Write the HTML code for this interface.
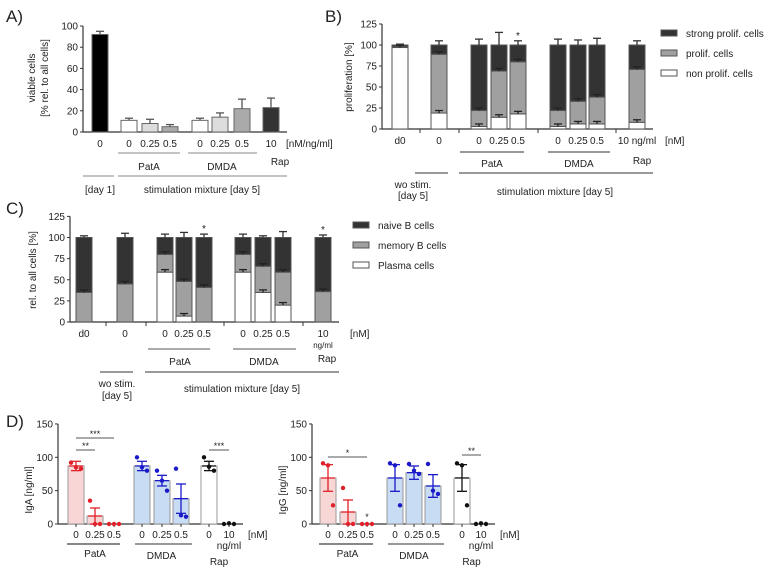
<!DOCTYPE html>
<html><head><meta charset="utf-8"><style>
body{margin:0;background:#fff;}
svg{display:block;font-family:"Liberation Sans",Arial,sans-serif;}
</style></head><body>
<svg id="fig" width="777" height="570" viewBox="0 0 777 570" xmlns="http://www.w3.org/2000/svg"></svg>
<script>
// ---------- Panel A data ----------
const aCats = ["0","0","0.25","0.5","0","0.25","0.5","10"];
const aVals = [92,11,8,5,11,14,22,23];
const aErrs = [3,2,4,2,2,4,9,9];
const aTicks = [0,20,40,60,80,100];
// ---------- Panel B data ----------
const bCats = ["d0","0","0","0.25","0.5","0","0.25","0.5","10 ng/ml"];
const bNon = [97,19,3,14,18,3,6,6,8];
const bProlif = [98,89,22,69,80,22,33,38,71];
const bStrongErr = [1,5,7,15,5,7,6,8,5];
const bTicks = [0,25,50,75,100,125];
// ---------- Panel C data ----------
const cCats = ["d0","0","0","0.25","0.5","0","0.25","0.5","10"];
const cPlasma = [0,0,59,7,0,59,35,20,0];
const cMemory = [35,45,80,48,41,80,66,59,36];
const cNaiveErr = [2,5,4,6,4,4,2,7,3];
const cTicks = [0,25,50,75,100,125];
// ---------- Panel D data ----------
const dCats = ["0","0.25","0.5","0","0.25","0.5","0","10"];
const igaMean = [87,12,0,87,65,38,87,0];
const igaSem = [7,12,0,7,8,22,7,0];
const igaPts = [[92,85,83],[35,0,0],[0,0,0],[100,85,80],[80,65,50],[83,13,11],[100,86,80],[0,1,0]];
const iggMean = [69,18,0,69,77,57,69,0];
const iggSem = [20,18,0,20,10,17,20,0];
const iggPts = [[91,88,28],[54,0,0],[0,0,0],[91,88,28],[90,80,75],[90,50,45],[91,88,28],[0,1,0]];
const dTicks = [0,50,100,150];

const NS="http://www.w3.org/2000/svg";
const svg=document.getElementById('fig');
function mk(tag,attrs,parent){const e=document.createElementNS(NS,tag);for(const k in attrs)e.setAttribute(k,attrs[k]);(parent||svg).appendChild(e);return e;}
function txt(x,y,s,size,anchor,parent,rot){const t=mk('text',{x:x,y:y,'font-size':size,'text-anchor':anchor||'middle',fill:'#222'},parent);if(rot)t.setAttribute('transform','rotate(-90 '+x+' '+y+')');t.textContent=s;return t;}
function line(x1,y1,x2,y2,c,w,parent){return mk('line',{x1:x1,y1:y1,x2:x2,y2:y2,stroke:c||'#333','stroke-width':w||1},parent);}
function yAxis(g,x,y0,k,ticks,top){line(x,y0,x,y0-k*top,'#333',1.2,g);ticks.forEach(v=>{const y=y0-k*v;line(x-3,y,x,y,'#333',1,g);txt(x-5,y+3.5,String(v),10,'end',g);});}
function errUp(g,x,y,h,c){line(x,y,x,y-h,c,1.3,g);line(x-4,y-h,x+4,y-h,c,1.3,g);}

// ---------- Panel labels ----------
[['A)',6,22],['B)',325,22],['C)',6,214],['D)',6,427]].forEach(p=>{const t=txt(p[1],p[2],p[0],17,'start');});

// ---------- Panel A ----------
(function(){
const g=mk('g',{});


const y0=132,k=1.06,ax=83;
const xs=[100,129,150,170,200,220,242,271];
const fills=['#000','#fff','#ddd','#aaa','#fff','#ddd','#aaa','#333'];
yAxis(g,ax,y0,k,aTicks,100);
line(ax,y0,287,y0,'#333',1.2,g);
aVals.forEach((v,i)=>{
 const r=mk('rect',{x:xs[i]-8,y:y0-k*v,width:16,height:k*v,fill:fills[i],stroke:'#666','stroke-width':1},g);
 
 
 errUp(g,xs[i],y0-k*v,k*aErrs[i],'#555');
 txt(xs[i],147,aCats[i],10,'middle',g);
});
txt(286,147,'[nM/ng/ml]',10,'start',g);
line(118,153,180,153,'#888',1,g);line(188,153,257,153,'#888',1,g);
txt(149,170,'PatA',10,'middle',g);txt(222,170,'DMDA',10,'middle',g);txt(280,165,'Rap',10,'middle',g);
line(83,176,114,176,'#888',1,g);line(118,176,287,176,'#888',1,g);
txt(100,193,'[day 1]',10,'middle',g);txt(202,193,'stimulation mixture [day 5]',10,'middle',g);
txt(35,78,'viable cells',10,'middle',g,true);txt(48,78,'[% rel. to all cells]',10,'middle',g,true);
})();

// ---------- stacked helper ----------
function stacked(g,xs,y0,k,low,mid,lowC,midC,topC,midErr,topErr,prefix){
 xs.forEach((x,i)=>{
  const segs=[[0,low[i],lowC],[low[i],mid[i],midC],[mid[i],100,topC]];
  segs.forEach((s,j)=>{if(s[1]>s[0]){const r=mk('rect',{x:x-8,y:y0-k*s[1],width:16,height:k*(s[1]-s[0]),fill:s[2],stroke:'#555','stroke-width':1},g);
   
   }});
  if(low[i]>0)errUp(g,x,y0-k*low[i],k*3,'#222');
  errUp(g,x,y0-k*mid[i],k*3,'#222');
  errUp(g,x,y0-k*100,k*topErr[i],'#333');
 });
}

// ---------- Panel B ----------
(function(){
const g=mk('g',{});


const y0=129,k=0.84,ax=382;
const xs=[400,439,479,499,518,558,578,597,637];
yAxis(g,ax,y0,k,bTicks,125);
line(ax,y0,653,y0,'#333',1.2,g);
[420,459,538,616].forEach(x=>line(x,y0,x,y0+4,'#333',1,g));
stacked(g,xs,y0,k,bNon,bProlif,'#fff','#a0a0a0','#333',null,bStrongErr,'b');
txt(518,y0-k*(100+bStrongErr[4])-2,'*',10,'middle',g);
xs.forEach((x,i)=>txt(x,144,bCats[i],10,'middle',g));
txt(665,144,'[nM]',10,'start',g);
line(460,152,524,152,'#333',1,g);line(548,152,610,152,'#333',1,g);
txt(492,167,'PatA',10,'middle',g);txt(579,167,'DMDA',10,'middle',g);txt(642,164,'Rap',10,'middle',g);
line(415,173,448,173,'#333',1,g);line(459,173,653,173,'#333',1,g);
txt(413,188,'wo stim.',10,'middle',g);txt(413,199,'[day 5]',10,'middle',g);
txt(555,195,'stimulation mixture [day 5]',10,'middle',g);
txt(352,77,'proliferation [%]',10,'middle',g,true);
[['#333','strong prolif. cells',33],['#a0a0a0','prolif. cells',53],['#fff','non prolif. cells',73]].forEach((l,i)=>{
 const lg=mk('g',{},g);
 
 
 mk('rect',{x:661,y:l[2]-3,width:16,height:6,fill:l[0],stroke:'#555'},lg);txt(686,l[2]+4,l[1],10,'start',lg);});
})();

// ---------- Panel C ----------
(function(){
const g=mk('g',{});


const y0=322,k=0.845,ax=70;
const xs=[84,125,165,184,204,243,263,283,323];
yAxis(g,ax,y0,k,cTicks,125);
line(ax,y0,339,y0,'#333',1.2,g);
[106,146,224,303].forEach(x=>line(x,y0,x,y0+4,'#333',1,g));
stacked(g,xs,y0,k,cPlasma,cMemory,'#fff','#a0a0a0','#333',null,cNaiveErr,'c');
txt(204,y0-k*(100+cNaiveErr[4])-2,'*',10,'middle',g);txt(323,y0-k*(100+cNaiveErr[8])-2,'*',10,'middle',g);
xs.forEach((x,i)=>txt(x,337,cCats[i],10,'middle',g));
txt(323,348,'ng/ml',8,'middle',g);txt(350,337,'[nM]',10,'start',g);
line(148,349,210,349,'#555',1,g);line(233,349,296,349,'#555',1,g);
txt(180,365,'PatA',10,'middle',g);txt(264,365,'DMDA',10,'middle',g);txt(327,362,'Rap',10,'middle',g);
line(100,372,133,372,'#333',1,g);line(145,372,339,372,'#333',1,g);
txt(117,387,'wo stim.',10,'middle',g);txt(117,399,'[day 5]',10,'middle',g);
txt(242,392,'stimulation mixture [day 5]',10,'middle',g);
txt(36,270,'rel. to all cells [%]',10,'middle',g,true);
[['#333','naive B cells',225],['#a0a0a0','memory B cells',245],['#fff','Plasma cells',265]].forEach((l,i)=>{
 const lg=mk('g',{},g);
 
 
 mk('rect',{x:353,y:l[2]-3,width:16,height:6,fill:l[0],stroke:'#555'},lg);txt(378,l[2]+4,l[1],10,'start',lg);});
})();

// ---------- Panel D ----------
function dotPanel(ax,xs,mean,sem,pts,title,name,sig){
const g=mk('g',{});


const y0=524,k=0.667;
const fill=['#f9d6d6','#f9d6d6','#f9d6d6','#c8dcf4','#c8dcf4','#c8dcf4','#fff','#fff'];
const col=['#e0202a','#e0202a','#e0202a','#1a1ac8','#1a1ac8','#1a1ac8','#111','#111'];
yAxis(g,ax,y0,k,dTicks,150);
const xend=xs[7]+14;
line(ax,y0,xend,y0,'#333',1.2,g);
xs.forEach((x,i)=>{
 if(mean[i]>0){const r=mk('rect',{x:x-8,y:y0-k*mean[i],width:16,height:k*mean[i],fill:fill[i],stroke:'#999','stroke-width':1},g);
  
  }
 line(x,y0,x,y0+3,'#333',1,g);
 if(sem[i]>0){const yt=y0-k*(mean[i]+sem[i]),yb=y0-k*(mean[i]-sem[i]);line(x,yt,x,yb,col[i],1.3,g);line(x-5,yt,x+5,yt,col[i],1.3,g);line(x-5,yb,x+5,yb,col[i],1.3,g);line(x-7,y0-k*mean[i],x+7,y0-k*mean[i],col[i],1.3,g);}
 pts[i].forEach((p,j)=>{const c=mk('circle',{cx:x+(j-1)*5,cy:y0-k*p,r:2.2,fill:col[i]},g);
  
  });
 txt(x,538,dCats[i],10,'middle',g);
});
txt(xend+5,538,'[nM]',10,'start',g);
txt(xs[7],549,'ng/ml',10,'middle',g);
line(xs[0]-9,544,xs[2]+6,544,'#888',2,g);line(xs[3]-7,544,xs[5]+11,544,'#333',1,g);
txt((xs[0]+xs[2])/2,557,'PatA',10,'middle',g);txt((xs[3]+xs[5])/2,559,'DMDA',10,'middle',g);txt((xs[6]+xs[7])/2,565,'Rap',10,'middle',g);
txt(ax-26,490,title,10,'middle',g,true);
sig.forEach(s=>{line(xs[s[0]],s[2],xs[s[1]],s[2],'#555',1,g);txt((xs[s[0]]+xs[s[1]])/2,s[2]-1,s[3],9,'middle',g);});
}
dotPanel(58,[76,95,114,142,162,181,209,229],igaMean,igaSem,igaPts,'IgA [ng/ml]','panel-d-iga-chart',[[0,2,438,'***'],[0,1,450,'**'],[6,7,450,'***']]);
dotPanel(312,[328,348,367,395,414,433,462,481],iggMean,iggSem,iggPts,'IgG [ng/ml]','panel-d-igg-chart',[[0,2,457,'*'],[6,7,455,'**']]);
txt(367,520,'*',9,'middle');
</script>
</body></html>
